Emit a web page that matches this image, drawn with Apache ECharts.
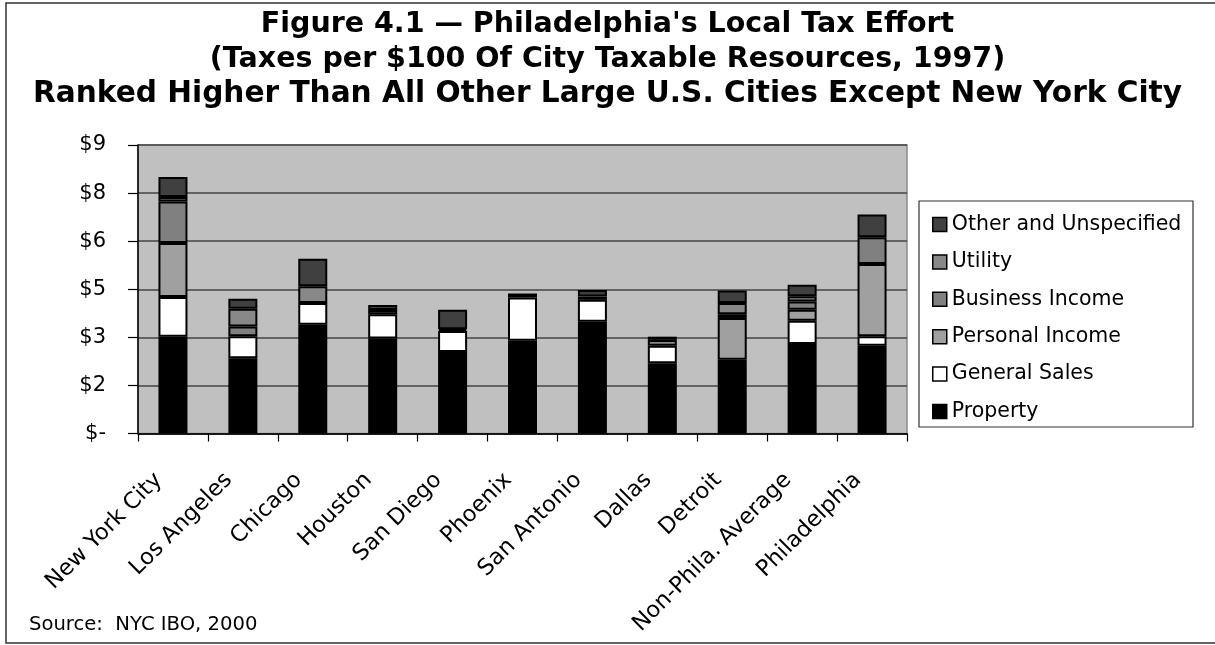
<!DOCTYPE html>
<html>
<head>
<meta charset="utf-8">
<script src="https://cdn.jsdelivr.net/npm/echarts@6/dist/echarts.min.js"></script>
<style>
  html, body { margin: 0; padding: 0; background: #ffffff; }
  #chart { width: 1215px; height: 645px; }
</style>
</head>
<body>
<div id="chart"></div>
<script>
// Cities compared (1997), taxes per $100 of city taxable resources
const cities = ['New York City', 'Los Angeles', 'Chicago', 'Houston', 'San Diego', 'Phoenix',
                'San Antonio', 'Dallas', 'Detroit', 'Non-Phila. Average', 'Philadelphia'];

const property       = [3.02, 2.35, 3.39, 2.96, 2.54, 2.89, 3.49, 2.19, 2.30, 2.79, 2.74];
const generalSales   = [1.24, 0.68, 0.68, 0.76, 0.66, 1.35, 0.68, 0.55, 0.00, 0.73, 0.29];
const personalIncome = [1.68, 0.00, 0.00, 0.00, 0.00, 0.00, 0.00, 0.00, 1.30, 0.34, 2.26];
const businessIncome = [1.30, 0.31, 0.00, 0.00, 0.00, 0.00, 0.00, 0.00, 0.12, 0.26, 0.83];
const utility        = [0.14, 0.55, 0.52, 0.13, 0.05, 0.00, 0.10, 0.18, 0.35, 0.16, 0.00];
const otherUnspec    = [0.62, 0.31, 0.86, 0.16, 0.61, 0.13, 0.21, 0.10, 0.39, 0.36, 0.71];

const seriesNames = ['Property', 'General Sales', 'Personal Income', 'Business Income', 'Utility', 'Other and Unspecified'];
const seriesValues = [property, generalSales, personalIncome, businessIncome, utility, otherUnspec];
const seriesColors = ['#000000', '#ffffff', '#a0a0a0', '#808080', '#888888', '#404040'];

const titleLines = [
  "Figure 4.1 \u2014 Philadelphia's Local Tax Effort",
  '(Taxes per $100 Of City Taxable Resources, 1997)',
  'Ranked Higher Than All Other Large U.S. Cities Except New York City'
];

const FONT = '"DejaVu Sans", Verdana, sans-serif';

const chart = echarts.init(document.getElementById('chart'), null, { renderer: 'canvas' });

const series = seriesNames.map((name, i) => ({
  name: name,
  type: 'bar',
  stack: 'taxes',
  barWidth: 29,
  data: seriesValues[i].map(v => (v === 0 ? '-' : v)),
  itemStyle: { color: seriesColors[i], borderColor: '#000000', borderWidth: 2 },
  emphasis: { disabled: true }
}));

const titleStyle = { fontFamily: FONT, fontWeight: 'bold', color: '#000000', lineHeight: 35, align: 'center' };

chart.setOption({
  animation: false,
  backgroundColor: '#ffffff',
  title: {
    text: '{a|' + titleLines[0] + '}\n{a|' + titleLines[1] + '}\n{b|' + titleLines[2] + '}',
    left: 'center',
    top: 2,
    textStyle: {
      align: 'center',
      rich: {
        a: Object.assign({ fontSize: 28.5 }, titleStyle),
        b: Object.assign({ fontSize: 29.6 }, titleStyle)
      }
    }
  },
  legend: {
    orient: 'vertical',
    left: 927,
    top: 209,
    data: seriesNames.slice().reverse(),
    itemWidth: 14,
    itemHeight: 14,
    itemGap: 16.4,
    icon: 'rect',
    selectedMode: false,
    itemStyle: { borderColor: '#000000', borderWidth: 1.5 },
    textStyle: { fontFamily: FONT, fontSize: 20.5, lineHeight: 20, color: '#000000', padding: [0, 0, 0, 0] }
  },
  grid: {
    left: 138, top: 145, right: 308, bottom: 211.5,
    show: true, backgroundColor: '#c0c0c0', borderColor: '#8a8a8a', borderWidth: 1.5
  },
  xAxis: {
    type: 'category',
    data: cities,
    axisLine: { lineStyle: { color: '#000000', width: 1.5 } },
    axisTick: { show: true, length: 8, lineStyle: { color: '#000000', width: 1.2 } },
    axisLabel: { rotate: 45, margin: 29, padding: [0, 20, 0, 0], fontFamily: FONT, fontSize: 22.5, color: '#000000', interval: 0 }
  },
  yAxis: {
    type: 'value',
    min: 0, max: 9, interval: 1.5,
    axisLine: { show: true, lineStyle: { color: '#000000', width: 1.5 } },
    axisTick: { show: true, length: 10, lineStyle: { color: '#000000', width: 1.2 } },
    splitLine: { lineStyle: { color: '#454545', width: 1.5 } },
    axisLabel: {
      margin: 32, fontFamily: FONT, fontSize: 21, color: '#000000',
      formatter: v => (v === 0 ? '$-' : '$' + Math.round(v))
    }
  },
  graphic: [
    { type: 'rect', shape: { x: 6, y: 3, width: 1215, height: 640 }, silent: true, z: -10,
      style: { fill: 'none', stroke: '#333333', lineWidth: 1.5 } },
    { type: 'rect', shape: { x: 919, y: 201, width: 274, height: 226 }, silent: true, z: -1,
      style: { fill: '#ffffff', stroke: '#333333', lineWidth: 1.2 } },
    { type: 'text', left: 29, top: 615, silent: true,
      style: { text: 'Source:  NYC IBO, 2000', font: '19.6px ' + FONT, fill: '#000000' } }
  ],
  series: series
});
</script>
</body>
</html>
